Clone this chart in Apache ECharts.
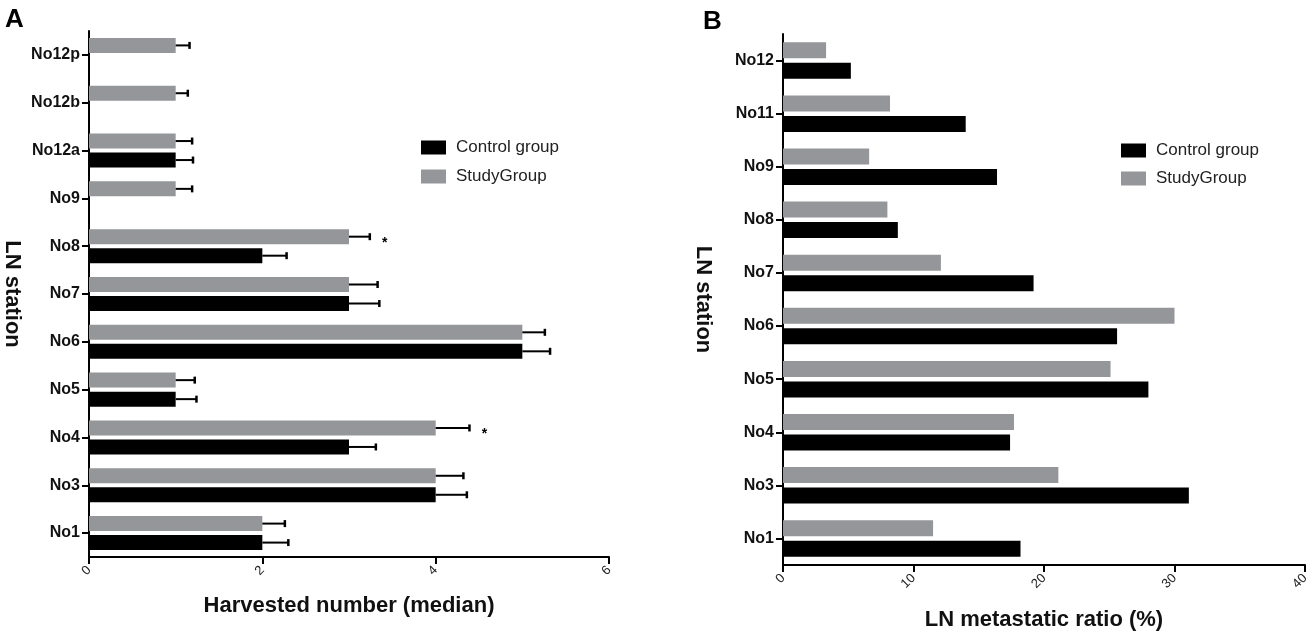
<!DOCTYPE html>
<html>
<head>
<meta charset="utf-8">
<script src="https://cdn.jsdelivr.net/npm/echarts@6/dist/echarts.min.js"></script>
<style>
    html, body { margin: 0; padding: 0; background: #fff; }
    #chart { width: 1316px; height: 636px; }
</style>
</head>
<body>
<div id="chart"></div>
<script>
// panel A: harvested number (median), categories listed bottom -> top
const stationsA = ["No1", "No3", "No4", "No5", "No6", "No7", "No8", "No9", "No12a", "No12b", "No12p"];
const controlA = [2, 4, 3, 1, 5, 3, 2, null, 1, null, null];
const controlErrA = [0.3, 0.36, 0.31, 0.24, 0.32, 0.35, 0.28, null, 0.2, null, null];
const studyA = [2, 4, 4, 1, 5, 3, 3, 1, 1, 1, 1];
const studyErrA = [0.26, 0.32, 0.39, 0.22, 0.26, 0.33, 0.24, 0.19, 0.19, 0.14, 0.16];
const starsA = ["", "", "*", "", "", "", "*", "", "", "", ""];
const ticksA = [0, 2, 4, 6];

// panel B: LN metastatic ratio (%), categories listed bottom -> top
const stationsB = ["No1", "No3", "No4", "No5", "No6", "No7", "No8", "No9", "No11", "No12"];
const controlB = [18.2, 31.1, 17.4, 28.0, 25.6, 19.2, 8.8, 16.4, 14.0, 5.2];
const studyB = [11.5, 21.1, 17.7, 25.1, 30.0, 12.1, 8.0, 6.6, 8.2, 3.3];
const ticksB = [0, 10, 20, 30, 40];

const legendNames = ["Control group", "StudyGroup"];

const FONT = "Liberation Sans, Arial, Helvetica, sans-serif";
const GRAY = "#949699";
const BLACK = "#000000";

const myChart = echarts.init(document.getElementById("chart"));

// error bar drawn at the bar end, offset to match the bar inside its band
const errRender = (offset, stars) => (params, api) => {
    const v = api.value(0);
    const idx = api.value(1);
    const e = api.value(2);
    const p0 = api.coord([v, idx]);
    const p1 = api.coord([v + e, idx]);
    const y = p0[1] + offset;
    const children = [
        { type: "line", shape: { x1: p0[0], y1: y, x2: p1[0], y2: y }, style: { stroke: BLACK, lineWidth: 2 } },
        { type: "line", shape: { x1: p1[0], y1: y - 3.5, x2: p1[0], y2: y + 3.5 }, style: { stroke: BLACK, lineWidth: 2.5 } },
    ];
    if (stars && stars[idx]) {
        children.push({
            type: "text",
            style: { text: stars[idx], x: p1[0] + 15, y: y + 6, font: "bold 14px " + FONT, textAlign: "center", textVerticalAlign: "middle", fill: BLACK },
        });
    }
    return { type: "group", children };
};

const errData = (vals, errs) => {
    const out = [];
    vals.forEach((v, i) => {
        if (v != null && errs[i] != null) {
            out.push([v, i, errs[i]]);
        }
    });
    return out;
};

const valueAxis = (gridIndex, ticks, name, nameGap) => ({
    type: "value",
    gridIndex,
    min: ticks[0],
    max: ticks[ticks.length - 1],
    interval: ticks[1] - ticks[0],
    name,
    nameLocation: "middle",
    nameGap,
    nameTextStyle: { fontFamily: FONT, fontSize: 22, fontWeight: "bold", color: "#111" },
    axisLine: { show: true, lineStyle: { color: BLACK, width: 2 } },
    axisTick: { show: true, length: 7, lineStyle: { color: BLACK, width: 2 } },
    axisLabel: { rotate: 45, fontFamily: FONT, fontSize: 13, color: "#222", margin: 11 },
    splitLine: { show: false },
});

const categoryAxis = (gridIndex, data, nameGap) => ({
    type: "category",
    gridIndex,
    data,
    name: "LN station",
    nameLocation: "middle",
    nameRotate: -90,
    nameGap,
    nameTextStyle: { fontFamily: FONT, fontSize: 22, fontWeight: "bold", color: "#111" },
    axisLine: { show: true, lineStyle: { color: BLACK, width: 2 } },
    axisTick: { show: true, alignWithLabel: true, length: 7, lineStyle: { color: BLACK, width: 2 } },
    axisLabel: { fontFamily: FONT, fontSize: 16, fontWeight: "bold", color: "#111", margin: 9 },
    splitLine: { show: false },
});

const legendConfig = (left, top, itemGap) => ({
    data: legendNames,
    orient: "vertical",
    left,
    top,
    itemWidth: 25,
    itemHeight: 14,
    itemGap,
    icon: "rect",
    selectedMode: false,
    textStyle: { fontFamily: FONT, fontSize: 17, color: "#222", padding: [0, 0, 0, 5] },
});

const option = {
    animation: false,
    title: [
        { text: "A", left: 0, top: 2, textStyle: { fontFamily: FONT, fontSize: 26, fontWeight: "bold", color: BLACK } },
        { text: "B", left: 698, top: 4, textStyle: { fontFamily: FONT, fontSize: 26, fontWeight: "bold", color: BLACK } },
    ],
    legend: [legendConfig(416, 134, 12), legendConfig(1116, 137, 11)],
    grid: [
        { left: 86, top: 31, width: 523, height: 526 },
        { left: 783, top: 34, width: 522, height: 532 },
    ],
    xAxis: [valueAxis(0, ticksA, "Harvested number (median)", 38), valueAxis(1, ticksB, "LN metastatic ratio (%)", 44)],
    yAxis: [categoryAxis(0, stationsA, 66), categoryAxis(1, stationsB, 69)],
    series: [
        {
            name: "StudyGroup",
            type: "bar",
            xAxisIndex: 0,
            yAxisIndex: 0,
            data: studyA,
            barWidth: 15,
            barGap: "27%",
            itemStyle: { color: GRAY },
        },
        {
            name: "Control group",
            type: "bar",
            xAxisIndex: 0,
            yAxisIndex: 0,
            data: controlA,
            barWidth: 15,
            barGap: "27%",
            itemStyle: { color: BLACK },
        },
        {
            name: "studyErr",
            type: "custom",
            xAxisIndex: 0,
            yAxisIndex: 0,
            data: errData(studyA, studyErrA),
            renderItem: errRender(-9.5, starsA),
            z: 3,
        },
        {
            name: "controlErr",
            type: "custom",
            xAxisIndex: 0,
            yAxisIndex: 0,
            data: errData(controlA, controlErrA),
            renderItem: errRender(9.5, null),
            z: 3,
        },
        {
            name: "StudyGroup",
            type: "bar",
            xAxisIndex: 1,
            yAxisIndex: 1,
            data: studyB,
            barWidth: 16,
            barGap: "28%",
            itemStyle: { color: GRAY },
        },
        {
            name: "Control group",
            type: "bar",
            xAxisIndex: 1,
            yAxisIndex: 1,
            data: controlB,
            barWidth: 16,
            barGap: "28%",
            itemStyle: { color: BLACK },
        },
    ],
};

myChart.setOption(option);
</script>
</body>
</html>
